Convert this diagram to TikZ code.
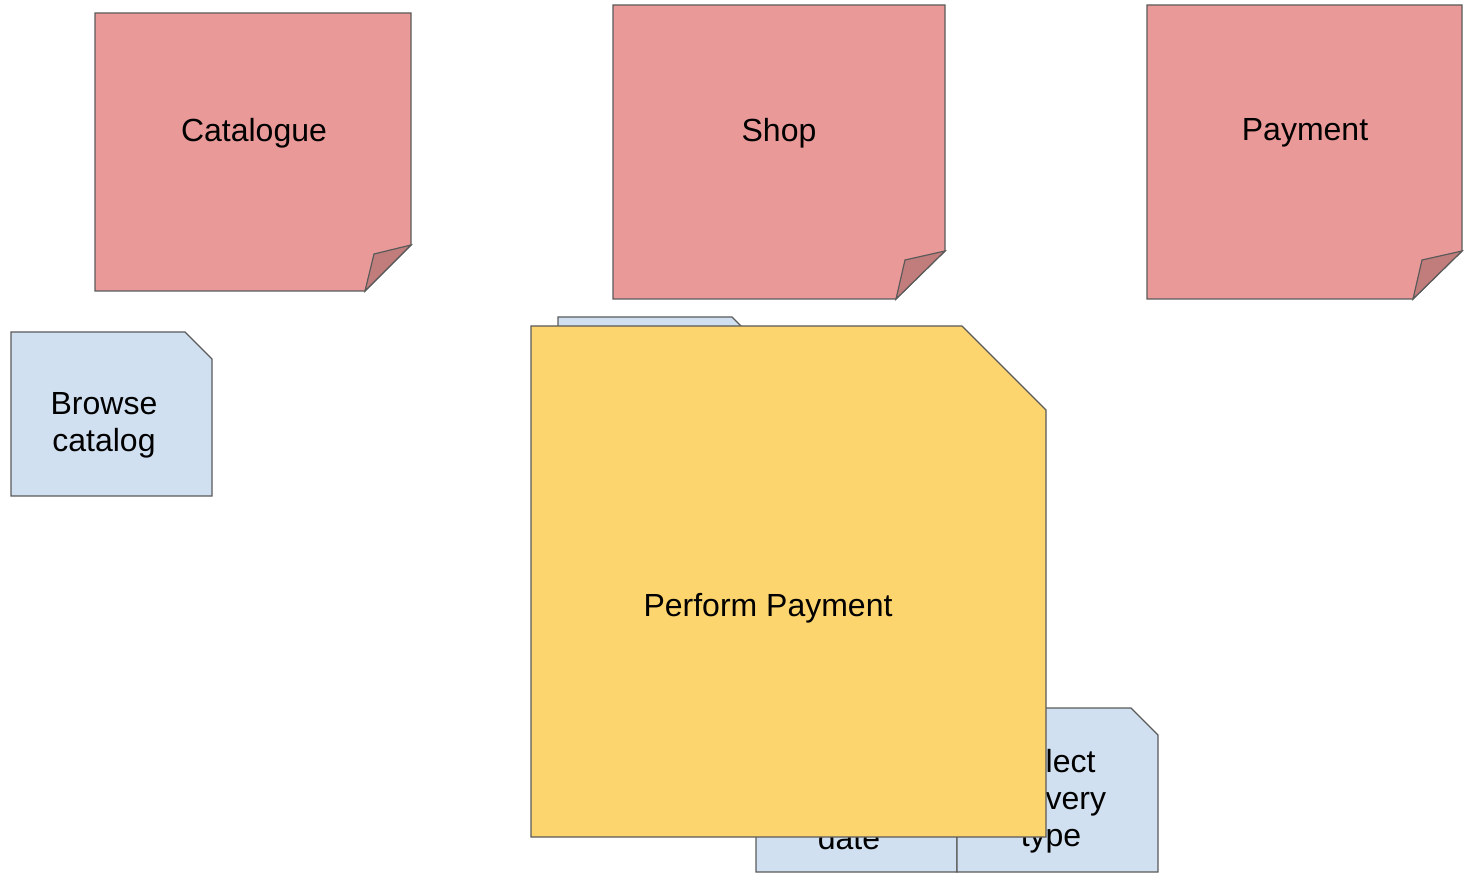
\documentclass[tikz,border=0pt]{standalone}
\usepackage{fontspec}
\setmainfont{Liberation Sans}
\definecolor{redfill}{HTML}{E99A98}
\definecolor{redfold}{HTML}{C17D7C}
\definecolor{bluefill}{HTML}{D0E0F0}
\definecolor{yellowfill}{HTML}{FDD56F}
\definecolor{stroke}{HTML}{5A5A5A}
\tikzset{
  notebody/.style={draw=stroke, line width=1.2pt, line join=miter},
  redbody/.style={notebody, fill=redfill},
  redcurl/.style={notebody, fill=redfold},
  bluebody/.style={notebody, fill=bluefill},
  yellowbody/.style={notebody, fill=yellowfill},
  label/.style={font=\fontsize{32}{37}\selectfont, align=center, inner sep=0pt, text=black}
}
\begin{document}
\begin{tikzpicture}[x=1pt,y=-1pt]
\useasboundingbox (0,0) rectangle (1472,882);
% red sticky notes
\path[redbody] (95,13) -- (411,13) -- (411,245) -- (365,291) -- (95,291) -- cycle;
\path[redcurl] (411,245) -- (374,254) -- (365,291) -- cycle;
\node[label] (catalogue) at (254,133) {Catalogue};
\path[redbody] (613,5) -- (945,5) -- (945,251) -- (896,299) -- (613,299) -- cycle;
\path[redcurl] (945,251) -- (905,260) -- (896,299) -- cycle;
\node[label] (shop) at (779,133) {Shop};
\path[redbody] (1147,5) -- (1462,5) -- (1462,251) -- (1413,299) -- (1147,299) -- cycle;
\path[redcurl] (1462,251) -- (1422,260) -- (1413,299) -- cycle;
\node[label] (payment) at (1305,133) {Payment};
% blue notes
\path[bluebody] (11,332) -- (185,332) -- (212,359) -- (212,496) -- (11,496) -- cycle;
\node[label] (browse) at (104,425) {Browse\\catalog};
\path[bluebody] (558,317) -- (732,317) -- (759,344) -- (759,481) -- (558,481) -- cycle;
\coordinate (hidden) at (658,399);
\path[bluebody] (756,708) -- (930,708) -- (957,735) -- (957,872) -- (756,872) -- cycle;
\node[label] (date) at (849,801) {Select\\delivery\\date};
\path[bluebody] (957,708) -- (1131,708) -- (1158,735) -- (1158,872) -- (957,872) -- cycle;
\node[label] (deliverytype) at (1051,801) {Select\\delivery\\type};
% yellow note
\path[yellowbody] (531,326) -- (962,326) -- (1046,410) -- (1046,837) -- (531,837) -- cycle;
\node[label] (perform) at (768,608) {Perform Payment};
\end{tikzpicture}
\end{document}
